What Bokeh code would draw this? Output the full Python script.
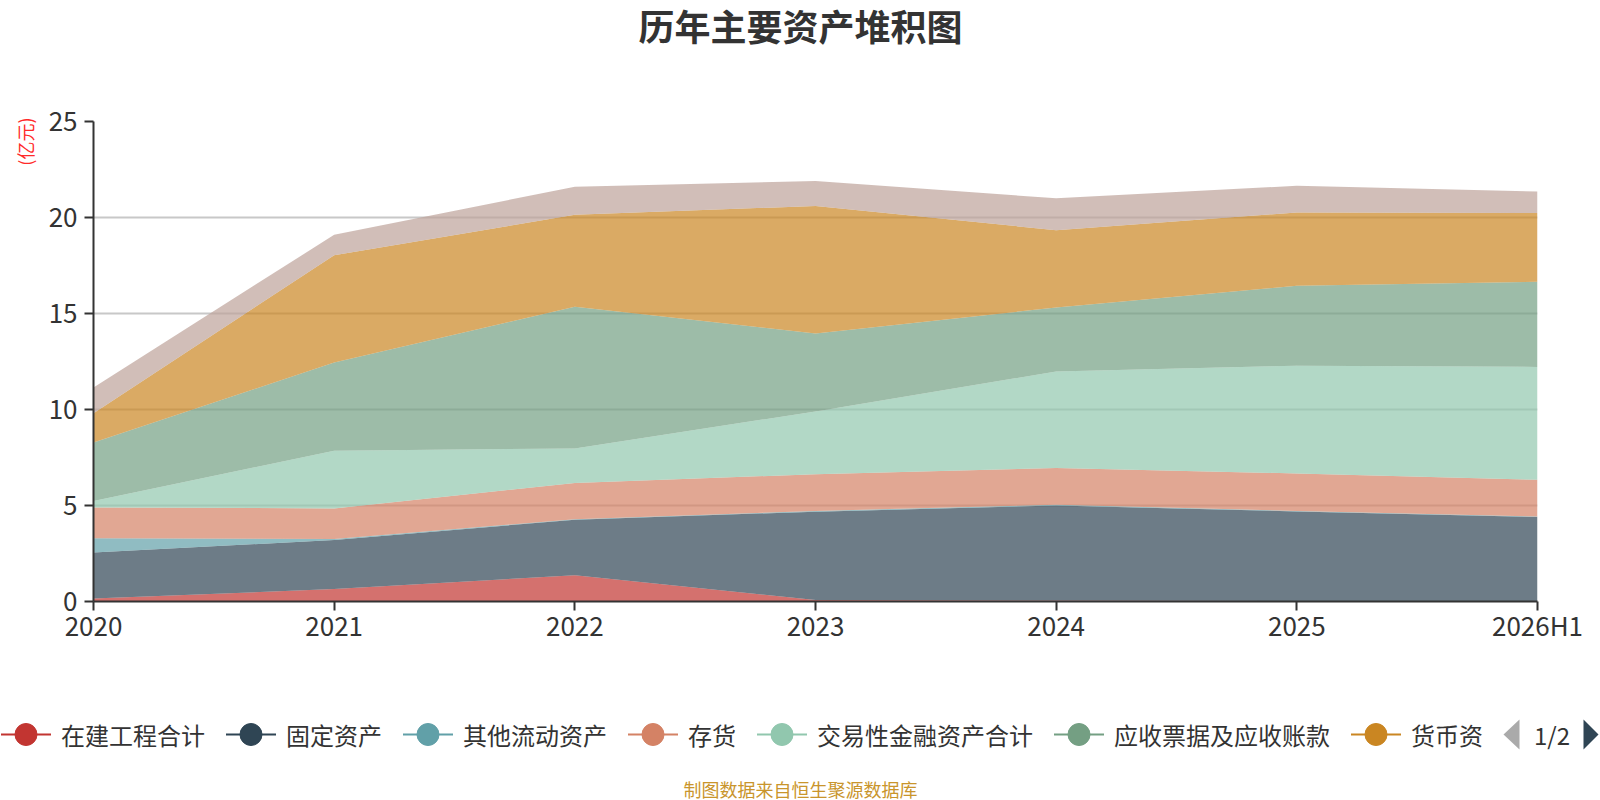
from bokeh.core.properties import value
from bokeh.embed import file_html
from bokeh.layouts import column
from bokeh.models import ColumnDataSource, FixedTicker, Range1d, Title
from bokeh.plotting import figure
from bokeh.resources import INLINE

# data (亿元), stack order bottom -> top
years = ["2020", "2021", "2022", "2023", "2024", "2025", "2026H1"]
construction = [0.15, 0.65, 1.37, 0.08, 0.05, 0.02, 0.0]      # 在建工程合计
fixed_assets = [2.40, 2.55, 2.89, 4.60, 4.95, 4.67, 4.40]     # 固定资产
other_current = [0.75, 0.05, 0.03, 0.04, 0.04, 0.03, 0.03]    # 其他流动资产
inventory = [1.60, 1.60, 1.88, 1.91, 1.91, 1.95, 1.91]        # 存货
trading_fin = [0.34, 3.00, 1.80, 3.27, 5.03, 5.61, 5.88]      # 交易性金融资产合计
receivables = [3.04, 4.60, 7.38, 4.06, 3.33, 4.16, 4.43]      # 应收票据及应收账款
cash = [1.52, 5.59, 4.79, 6.64, 4.03, 3.82, 3.58]             # 货币资金
others = [1.35, 1.06, 1.46, 1.30, 1.66, 1.39, 1.12]           # 其他

series_names = ["在建工程合计", "固定资产", "其他流动资产", "存货",
                "交易性金融资产合计", "应收票据及应收账款", "货币资金", "其他"]
series_values = [construction, fixed_assets, other_current, inventory,
                 trading_fin, receivables, cash, others]
colors = ["#c23531", "#2f4554", "#61a0a8", "#d48265",
          "#91c7ae", "#749f83", "#ca8622", "#bda29a"]
# first legend page, the last entry is cut off by the pager
legend_labels = ["在建工程合计", "固定资产", "其他流动资产", "存货",
                 "交易性金融资产合计", "应收票据及应收账款", "货币资"]
y_ticks = [0, 5, 10, 15, 20, 25]

FONT = "Noto Sans CJK SC"
W = 1600
HEAD_H = 60
MAIN_H = 640
LEG_H = 100


def strip(height):
    """Blank figure whose data units are pixels (for header / legend)."""
    f = figure(width=W, height=height, x_range=Range1d(0, W), y_range=Range1d(0, height),
               output_backend="svg", toolbar_location=None, min_border=0,
               x_axis_location=None, y_axis_location=None)
    f.outline_line_color = None
    f.grid.visible = False
    f.title.visible = False
    if "frame_align" in f.properties():
        f.frame_align = False
    return f


# header with the title
head = strip(HEAD_H)
head.text(x=[W / 2], y=[HEAD_H - 24], text=["历年主要资产堆积图"], text_font=value(FONT),
          text_font_size="36px", text_font_style="bold", text_color="#333333",
          text_align="center", text_baseline="middle")

# main stacked area chart
keys = [f"s{i}" for i in range(len(series_names))]
data = {"x": list(range(len(years)))}
for k, vals in zip(keys, series_values):
    data[k] = vals
source = ColumnDataSource(data)

p = figure(width=W, height=MAIN_H, x_range=Range1d(0, len(years) - 1), y_range=Range1d(0, 25),
           output_backend="svg", toolbar_location=None,
           min_border_left=93, min_border_right=63, min_border_top=61, min_border_bottom=99)
p.title.visible = False
if "frame_align" in p.properties():
    p.frame_align = False
p.varea_stack(stackers=keys, x="x", color=colors, fill_alpha=0.7, source=source)

p.outline_line_color = None
p.xgrid.visible = False
p.ygrid.grid_line_color = "#c8c8c8"
p.ygrid.grid_line_width = 2
p.xaxis.ticker = FixedTicker(ticks=list(range(len(years))))
p.xaxis.major_label_overrides = {i: y for i, y in enumerate(years)}
p.yaxis.ticker = FixedTicker(ticks=y_ticks)
p.axis.axis_line_color = "#333333"
p.axis.axis_line_width = 2
p.axis.major_tick_line_color = "#333333"
p.axis.major_tick_line_width = 2
p.axis.major_tick_out = 9
p.axis.major_tick_in = 0
p.axis.minor_tick_line_color = None
p.axis.major_label_text_font = FONT
p.axis.major_label_text_font_size = "26px"
p.axis.major_label_text_color = "#333333"
p.yaxis.major_label_standoff = 7
p.xaxis.major_label_standoff = -5

# unit name at the top of the value axis
p.add_layout(Title(text="(亿元)", align="right", text_font=FONT, text_font_size="18px",
                   text_font_style="normal", text_color="#ff2a2a", standoff=15, offset=-4), "left")

# legend strip (pixel coordinates)
leg = strip(LEG_H)
ly = LEG_H - 34
starts = []
s = 0.5
for lab in legend_labels:
    starts.append(s)
    s += 60 + len(lab) * 24 + 21
n = len(legend_labels)
leg.segment(x0=starts, y0=[ly] * n, x1=[v + 50 for v in starts], y1=[ly] * n,
            line_color=colors[:n], line_width=2)
leg.scatter(x=[v + 25 for v in starts], y=[ly] * n, size=22, color=colors[:n])
leg.text(x=[v + 60 for v in starts], y=[ly] * n, text=legend_labels,
         text_font=value(FONT), text_font_size="24px", text_color="#333333",
         text_align="left", text_baseline="middle")

# pager
leg.patches(xs=[[1503, 1519, 1519], [1583, 1583, 1598]],
            ys=[[ly, ly + 15, ly - 15], [ly + 15, ly - 15, ly]],
            fill_color=["#aaaaaa", "#2f4554"], line_color=None)
leg.text(x=[1551.5], y=[ly], text=["1/2"], text_font=value(FONT), text_font_size="24px",
         text_color="#333333", text_align="center", text_baseline="middle")

# footer
leg.text(x=[W / 2], y=[12], text=["制图数据来自恒生聚源数据库"], text_font=value(FONT),
         text_font_size="18px", text_color="#c9952c", text_align="center", text_baseline="middle")

layout = column(head, p, leg)
open("out.html", "w").write(file_html(layout, INLINE))
